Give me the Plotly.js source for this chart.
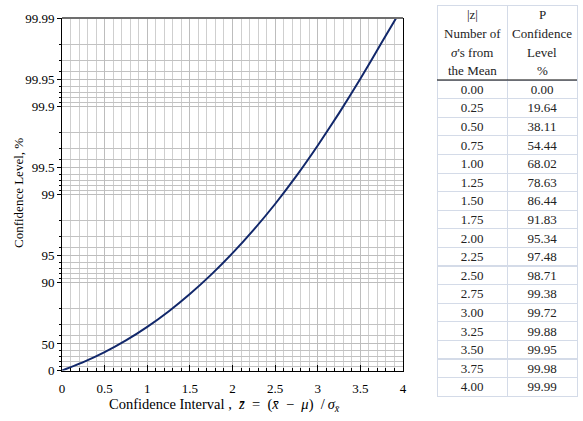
<!DOCTYPE html>
<html><head><meta charset="utf-8">
<script src="https://cdn.plot.ly/plotly-3.0.1.min.js"></script>
<style>html,body{margin:0;padding:0;background:#fff}</style>
</head><body><div id="chart" style="width:583px;height:421px"></div>
<script>
// table values
const zValues = [0.00,0.25,0.50,0.75,1.00,1.25,1.50,1.75,2.00,2.25,2.50,2.75,3.00,3.25,3.50,3.75,4.00];
const confidencePct = [0.00,19.64,38.11,54.44,68.02,78.63,86.44,91.83,95.34,97.48,98.71,99.38,99.72,99.88,99.95,99.98,99.99];
// curve values (finer near the top, where it leaves the frame)
const curveZ = [0.00,0.25,0.50,0.75,1.00,1.25,1.50,1.75,2.00,2.25,2.50,2.75,3.00,3.25,3.50,3.75,4.00];
const curvePct = [0.00,19.64,38.11,54.44,68.02,78.63,86.44,91.83,95.34,97.48,98.71,99.38,99.72,99.880,99.951,99.981,99.9926];
const yTickPct = [0,50,90,95,99,99.5,99.9,99.95,99.99];
const yTickText = ['0','50','90','95','99','99.5','99.9','99.95','99.99'];
const xTickVals = [0,0.5,1,1.5,2,2.5,3,3.5,4];
const xTickText = ['0','0.5','1','1.5','2','2.5','3','3.5','4'];
const headerZLines = ['|z|','Number of','<i>σ</i>\'s from','the Mean'];
const headerPLines = ['P','Confidence','Level','%'];
const xTitle = 'Confidence Interval ,\u2002<i>z̄</i>\u2002=\u2002(<i>x̄</i>\u2002−\u2002<i>μ</i>)\u2002/\u2009<i>σ</i><sub><i>x̄</i></sub>';
const yTitle = 'Confidence Level, %';

function tr(p){ return -Math.log10(1 - p/100); }

// minor gridlines: decade subdivisions of (1 - P)
const minorVals = [];
for (let d = 0; d < 4; d++) for (let k = 1; k <= 9; k++) minorVals.push(d + 1 - Math.log10(k));

const serif = 'Liberation Serif, Times New Roman, serif';

// page geometry (px) -> paper fractions
const W = 583, H = 421, ML = 62, MR = 6, MT = 0, MB = 23;
const PW = W - ML - MR, PH = H - MT - MB;
const px2x = px => (px - ML) / PW;
const px2y = py => (H - MB - py) / PH;

const curve = {
  type: 'scatter', mode: 'lines',
  x: curveZ, y: curvePct.map(tr),
  line: {color: '#12286b', width: 2, shape: 'spline', smoothing: 0.5},
  hoverinfo: 'skip', showlegend: false
};

const tableX0 = 437, tableMid = 507, tableX1 = 577, tableTop = 5, headerH = 75, rowH = 18.6, textLift = 4;
const bodyText = [zValues.map(v => v.toFixed(2)), confidencePct.map(v => v.toFixed(2))];
// grid of the table
const tableGrid = {
  type: 'table',
  domain: {x: [px2x(tableX0), px2x(tableX1)], y: [0, px2y(tableTop)]},
  columnwidth: [70, 70],
  header: {values: ['', ''], height: headerH, line: {color: '#d4dbe8', width: 1}, fill: {color: '#ffffff'}},
  cells: {values: bodyText.map(col => col.map(() => '')), height: rowH, line: {color: '#d4dbe8', width: 1}, fill: {color: '#ffffff'}}
};
// text of the table, lifted to sit centred in the rows
const tableText = {
  type: 'table',
  domain: {x: [px2x(tableX0), px2x(tableX1)], y: [0, px2y(tableTop - textLift)]},
  columnwidth: [70, 70],
  header: {values: ['', ''], height: headerH, line: {color: 'rgba(0,0,0,0)', width: 0}, fill: {color: 'rgba(0,0,0,0)'}},
  cells: {
    values: bodyText, align: 'center', height: rowH,
    line: {color: 'rgba(0,0,0,0)', width: 0}, fill: {color: 'rgba(0,0,0,0)'},
    font: {family: serif, size: 13, color: '#222'}
  }
};

const annotations = [];
const colCenters = [(tableX0 + tableMid) / 2, (tableMid + tableX1) / 2];
[headerZLines, headerPLines].forEach((lines, c) => {
  lines.forEach((t, i) => {
    annotations.push({
      xref: 'paper', yref: 'paper', x: px2x(colCenters[c]), y: px2y(tableTop + 10 + i * 18.6),
      xanchor: 'center', yanchor: 'middle', showarrow: false, text: t,
      font: {family: serif, size: 13, color: '#222'}
    });
  });
});
annotations.push({xref: 'paper', yref: 'paper', x: px2x(224), y: px2y(405), xanchor: 'center', yanchor: 'middle',
  showarrow: false, text: xTitle, font: {family: serif, size: 14.5, color: '#000'}});
annotations.push({xref: 'paper', yref: 'paper', x: px2x(18), y: px2y(193), xanchor: 'center', yanchor: 'middle',
  textangle: -90, showarrow: false, text: yTitle, font: {family: serif, size: 13, color: '#000'}});

const layout = {
  width: W, height: H,
  margin: {l: ML, r: MR, t: MT, b: MB},
  paper_bgcolor: '#fff', plot_bgcolor: '#fff',
  showlegend: false,
  font: {family: serif, size: 12, color: '#000'},
  xaxis: {
    domain: [0, px2x(403)], range: [0, 4], automargin: false,
    tickmode: 'array', tickvals: xTickVals, ticktext: xTickText,
    ticks: 'inside', ticklen: 6, tickcolor: '#000', tickwidth: 1,
    ticklabelstandoff: 6,
    showgrid: true, gridcolor: '#bdbdbd', gridwidth: 1,
    minor: {dtick: 0.1, tick0: 0, ticks: 'inside', ticklen: 3, tickcolor: '#000', showgrid: true, gridcolor: '#cfcfcf'},
    showline: true, linecolor: '#000', linewidth: 1, zeroline: false,
    tickfont: {family: serif, size: 13, color: '#000'}
  },
  yaxis: {
    domain: [px2y(370.5), px2y(18)], range: [0, 4], automargin: false,
    tickmode: 'array', tickvals: yTickPct.map(tr), ticktext: yTickText,
    ticks: 'outside', ticklen: 4, tickcolor: '#000', tickwidth: 1,
    showgrid: true, gridcolor: '#bdbdbd', gridwidth: 1,
    minor: {tickmode: 'array', tickvals: minorVals, ticks: 'outside', ticklen: 2, tickcolor: '#000', showgrid: true, gridcolor: '#c2c2c2'},
    showline: true, linecolor: '#000', linewidth: 1, mirror: true, zeroline: false,
    tickfont: {family: serif, size: 13, color: '#000'}
  },
  annotations: annotations,
  shapes: [
    {type: 'line', xref: 'x domain', yref: 'y domain', x0: 0, x1: 1, y0: 1, y1: 1, line: {color: '#6e6e6e', width: 2}},
    {type: 'line', xref: 'paper', yref: 'paper', x0: px2x(tableX0), x1: px2x(tableX1), y0: px2y(tableTop + headerH), y1: px2y(tableTop + headerH), line: {color: '#000', width: 1}}
  ]
};

Plotly.newPlot('chart', [curve, tableGrid, tableText], layout, {displayModeBar: false, staticPlot: true});
</script></body></html>
